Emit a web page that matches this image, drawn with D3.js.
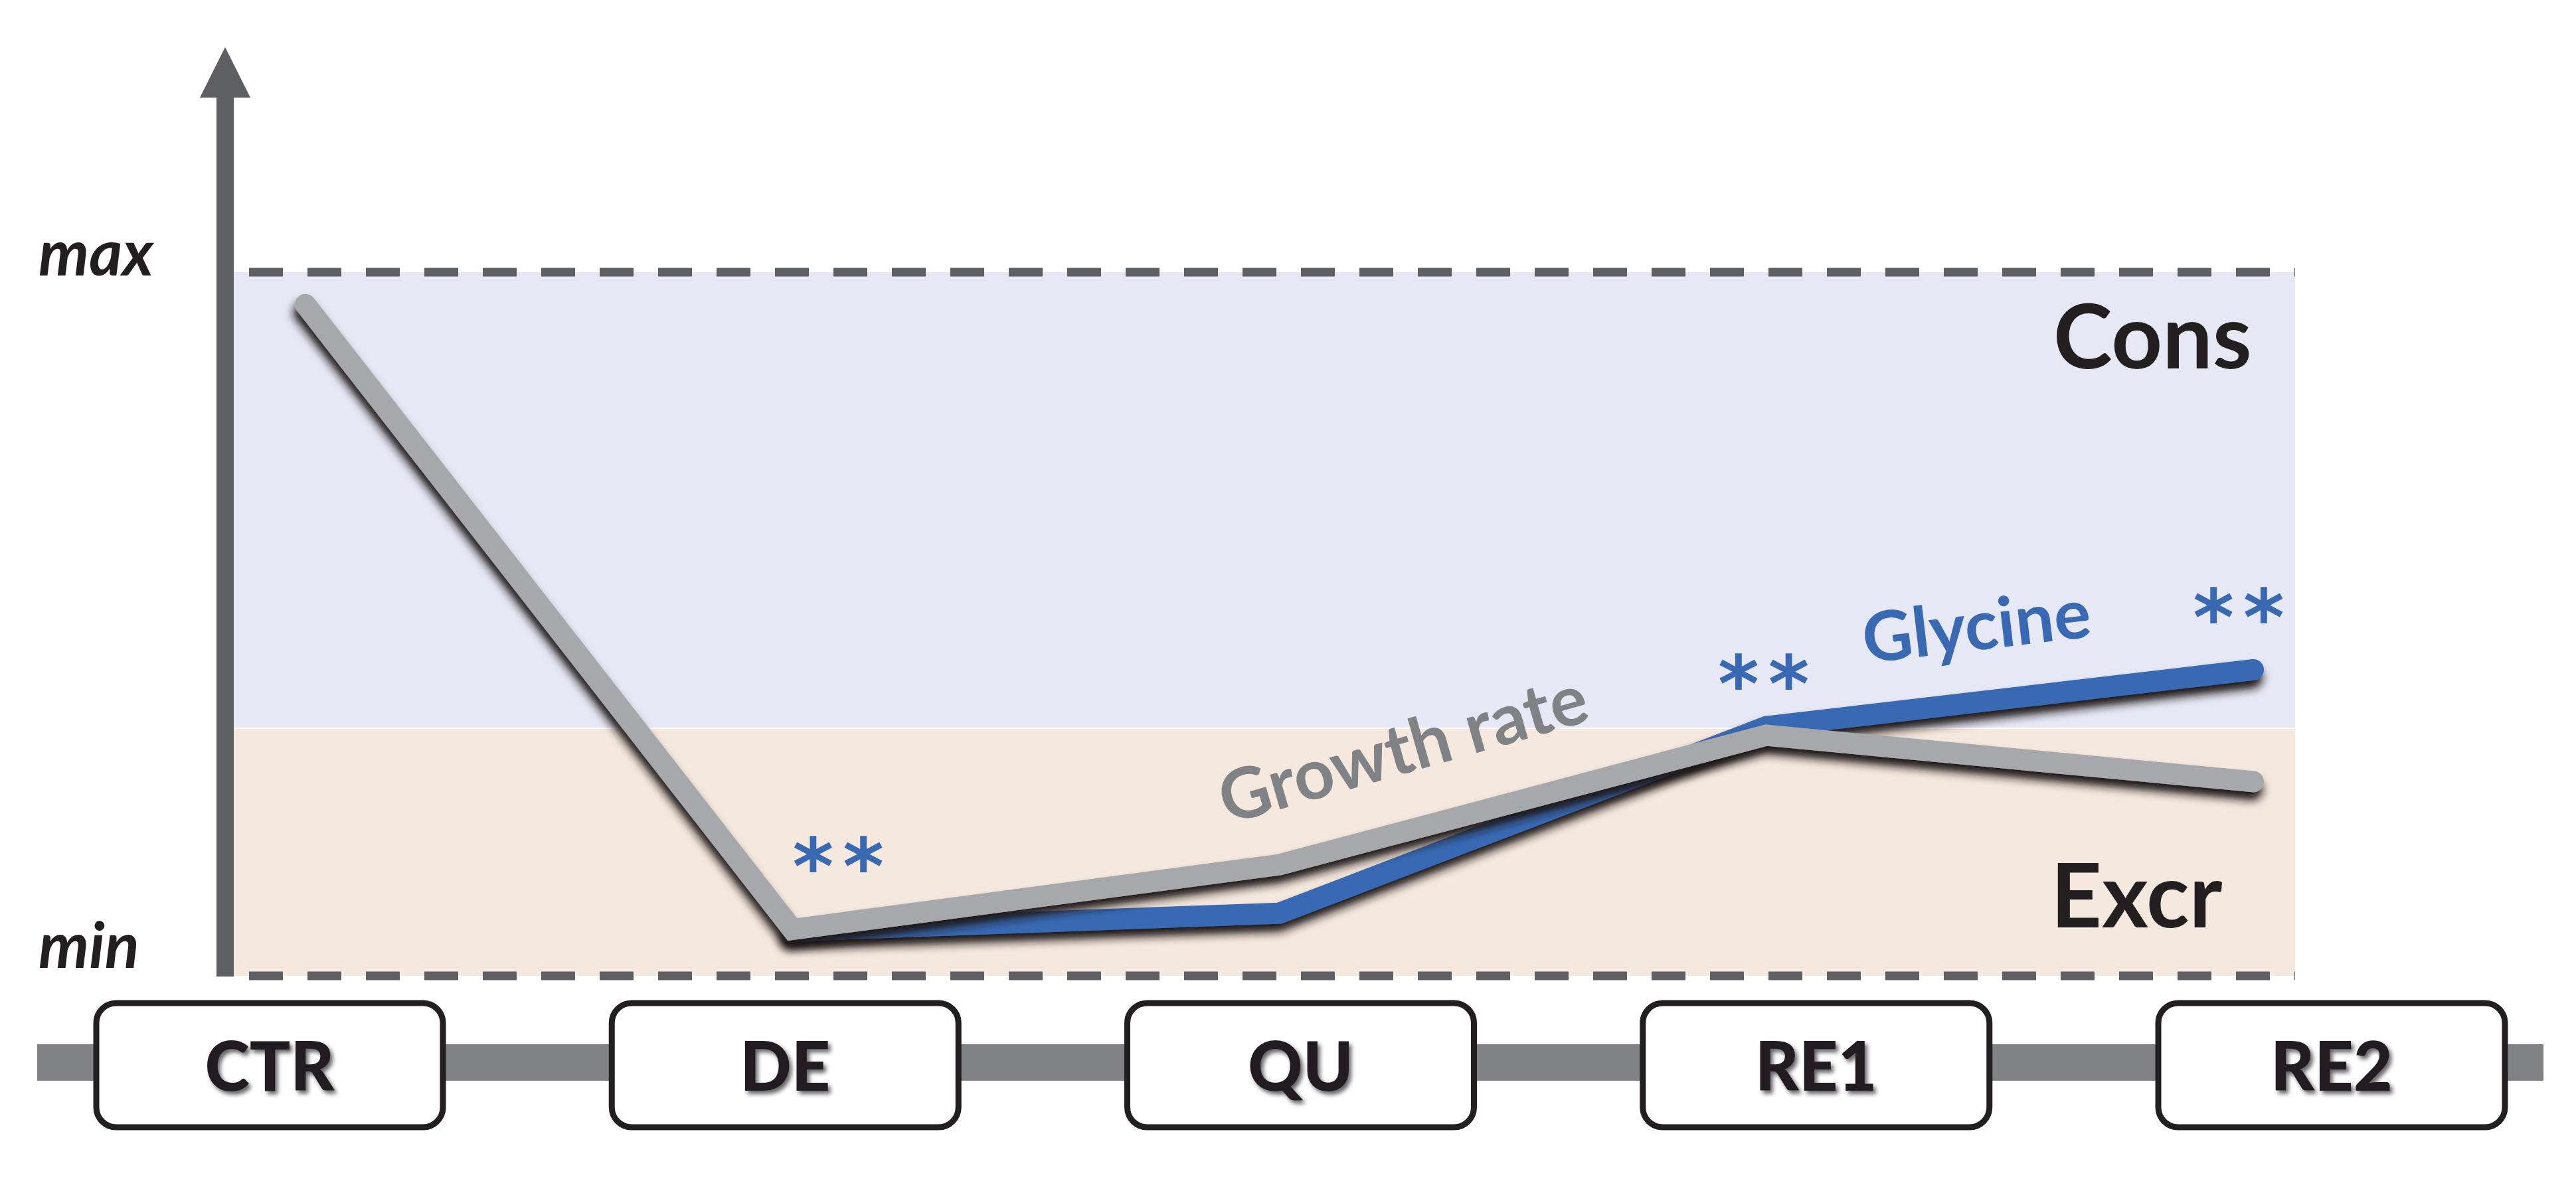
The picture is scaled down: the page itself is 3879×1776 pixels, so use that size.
<!DOCTYPE html>
<html>
<head>
<meta charset="utf-8">
<script src="https://cdn.jsdelivr.net/npm/d3@7"></script>
<style>
  html, body { margin: 0; padding: 0; background: #ffffff; }
  svg { display: block; }
</style>
</head>
<body>
<script>
// ---- Data ----
const categories = ["CTR", "DE", "QU", "RE1", "RE2"];
const growthRate = [95.4, 6.6, 15.8, 34.2, 27.6];
const glycine    = [null, 6.4, 8.9, 35.4, 43.5];
const yTickLabels = ["min", "max"];
const yTickValues = [0, 100];
const zoneBoundary = 35.2;
const zoneNames = ["Cons", "Excr"];
const sigCategories = ["DE", "RE1", "RE2"];
const sigValues = [17.5, 43.4, 52.8];
const seriesNames = ["Growth rate", "Glycine"];

// ---- Layout ----
const W = 3879, H = 1776;
const plotLeft = 352, plotRight = 3456;
const axisX = 339;

const svg = d3.select("body").append("svg")
  .attr("width", W).attr("height", H)
  .attr("viewBox", `0 0 ${W} ${H}`);

const defs = svg.append("defs");
const sh = defs.append("filter").attr("id", "lineShadow")
  .attr("x", "-10%").attr("y", "-20%").attr("width", "130%").attr("height", "150%");
sh.append("feDropShadow").attr("dx", -2).attr("dy", 12).attr("stdDeviation", 7)
  .attr("flood-color", "#1a1617").attr("flood-opacity", 1);
const tsh = defs.append("filter").attr("id", "textShadow")
  .attr("x", "-20%").attr("y", "-20%").attr("width", "150%").attr("height", "150%");
tsh.append("feDropShadow").attr("dx", 4).attr("dy", 5).attr("stdDeviation", 3)
  .attr("flood-color", "#000").attr("flood-opacity", 0.6);

const y = d3.scaleLinear().domain([0, 100]).range([1470, 410]);
const xLine = d3.scalePoint().domain(categories).range([460, 3393]);
const xBox = d3.scalePoint().domain(categories).range([406, 3511]);

// ---- Zones ----
svg.append("rect").attr("x", plotLeft).attr("y", y(100))
  .attr("width", plotRight - plotLeft).attr("height", y(zoneBoundary) - y(100))
  .attr("fill", "#e6e8f5");
svg.append("rect").attr("x", plotLeft).attr("y", y(zoneBoundary))
  .attr("width", plotRight - plotLeft).attr("height", y(0) - y(zoneBoundary))
  .attr("fill", "#f5e8de");
svg.append("line").attr("x1", plotLeft).attr("x2", plotRight)
  .attr("y1", y(zoneBoundary)).attr("y2", y(zoneBoundary))
  .attr("stroke", "#ffffff").attr("stroke-width", 2);

// ---- Dashed max / min lines ----
svg.selectAll("line.limit").data(yTickValues).enter().append("line")
  .attr("class", "limit")
  .attr("x1", axisX).attr("x2", plotRight)
  .attr("y1", d => y(d)).attr("y2", d => y(d))
  .attr("stroke", "#5d5f62").attr("stroke-width", 13)
  .attr("stroke-dasharray", "51 37")
  .attr("stroke-dashoffset", -36);

// ---- Y axis with arrow ----
svg.append("line").attr("x1", axisX).attr("x2", axisX)
  .attr("y1", y(0) + 1).attr("y2", 140)
  .attr("stroke", "#5d5f62").attr("stroke-width", 26);
svg.append("path")
  .attr("d", `M${axisX},71 L${axisX + 38},147 L${axisX - 38},147 Z`)
  .attr("fill", "#5d5f62");

svg.selectAll("text.ytick").data(yTickValues).enter().append("text")
  .attr("class", "ytick")
  .attr("x", 58).attr("y", d => y(d) + (d === 0 ? -12 : 5))
  .attr("font-family", "Lato").attr("font-style", "italic").attr("font-weight", 700)
  .attr("font-size", 96).attr("fill", "#231f20")
  .text((d, i) => yTickLabels[i]);

// ---- Zone labels ----
svg.append("text").attr("x", 3092).attr("y", y(86.3))
  .attr("font-family", "Lato").attr("font-weight", 700).attr("font-size", 134)
  .attr("fill", "#231f20").text(zoneNames[0]);
svg.append("text").attr("x", 3088).attr("y", y(6.9))
  .attr("font-family", "Lato").attr("font-weight", 700).attr("font-size", 134)
  .attr("fill", "#231f20").text(zoneNames[1]);

// ---- Lines ----
const line = d3.line()
  .defined(d => d.v !== null)
  .x(d => xLine(d.c)).y(d => y(d.v));

const glyData = categories.map((c, i) => ({ c, v: glycine[i] }));
const grData = categories.map((c, i) => ({ c, v: growthRate[i] }));

svg.append("path").datum(glyData)
  .attr("d", line).attr("fill", "none")
  .attr("stroke", "#3869b2").attr("stroke-width", 32)
  .attr("stroke-linecap", "round").attr("stroke-linejoin", "miter")
  .attr("filter", "url(#lineShadow)");
svg.append("path").datum(grData)
  .attr("d", line).attr("fill", "none")
  .attr("stroke", "#a6a8ab").attr("stroke-width", 32)
  .attr("stroke-linecap", "round").attr("stroke-linejoin", "miter")
  .attr("stroke-miterlimit", 10)
  .attr("filter", "url(#lineShadow)");

// ---- Series labels ----
svg.append("text")
  .attr("transform", "translate(1848,1242) rotate(-16)")
  .attr("font-family", "Lato").attr("font-weight", 700).attr("font-size", 106)
  .attr("fill", "#808285").text(seriesNames[0]);
svg.append("text")
  .attr("transform", "translate(2809,999) rotate(-6.7)")
  .attr("font-family", "Lato").attr("font-weight", 700).attr("font-size", 104)
  .attr("fill", "#3869b2").text(seriesNames[1]);

// ---- Significance asterisks ----
const sigOffsets = { DE: 76, RE1: 3, RE2: -15 };
svg.selectAll("text.sig").data(sigCategories).enter().append("text")
  .attr("class", "sig")
  .attr("x", d => xLine(d) + sigOffsets[d])
  .attr("y", (d, i) => y(sigValues[i]) + 62)
  .attr("text-anchor", "middle")
  .attr("font-family", "DejaVu Sans").attr("font-weight", 700)
  .attr("font-size", 118).attr("letter-spacing", 14)
  .attr("fill", "#3869b2")
  .text("**");

// ---- Timeline band and category boxes ----
svg.append("rect").attr("x", 56).attr("y", 1573)
  .attr("width", 3830 - 56).attr("height", 55).attr("fill", "#808285");

const boxW = 522, boxH = 187, boxTop = 1511;
const boxes = svg.selectAll("g.box").data(categories).enter().append("g")
  .attr("class", "box");
boxes.append("rect")
  .attr("x", d => xBox(d) - boxW / 2).attr("y", boxTop)
  .attr("width", boxW).attr("height", boxH)
  .attr("rx", 30).attr("ry", 30)
  .attr("fill", "#ffffff").attr("stroke", "#231f20").attr("stroke-width", 9);
boxes.append("text")
  .attr("x", d => xBox(d)).attr("y", 1643)
  .attr("text-anchor", "middle")
  .attr("font-family", "Lato").attr("font-weight", 900).attr("font-size", 102)
  .attr("fill", "#231f20").attr("filter", "url(#textShadow)")
  .text(d => d);
</script>
</body>
</html>
